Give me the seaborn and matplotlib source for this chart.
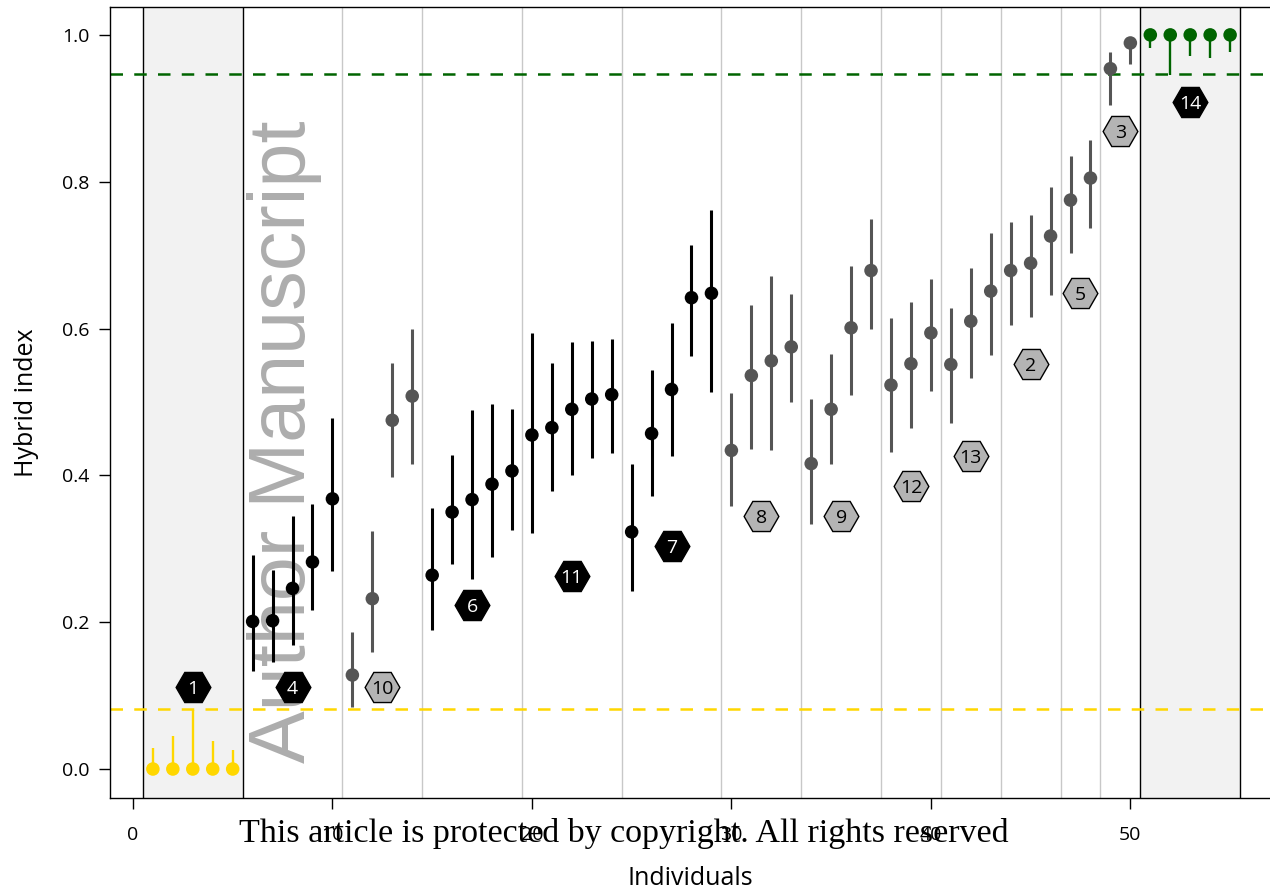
import numpy as np
import pandas as pd
import matplotlib
matplotlib.use("Agg")
import matplotlib.pyplot as plt
import seaborn as sns

# ---------------- data ----------------
individuals = list(range(1, 56))
hybrid_index = [0, 0, 0, 0, 0,
                0.201, 0.202, 0.246, 0.282, 0.368,
                0.128, 0.232, 0.475, 0.508,
                0.264, 0.350, 0.367, 0.388, 0.406,
                0.455, 0.465, 0.490, 0.504, 0.510,
                0.323, 0.457, 0.517, 0.642, 0.648,
                0.434, 0.536, 0.556, 0.575,
                0.416, 0.490, 0.601, 0.679,
                0.523, 0.552, 0.594,
                0.551, 0.610, 0.651,
                0.679, 0.689, 0.726,
                0.775, 0.805,
                0.954, 0.989,
                1.0, 1.0, 1.0, 1.0, 1.0]
ci_lower = [0, 0, 0, 0, 0,
            0.133, 0.146, 0.169, 0.216, 0.270,
            0.085, 0.160, 0.398, 0.415,
            0.189, 0.279, 0.259, 0.289, 0.326,
            0.322, 0.379, 0.400, 0.424, 0.431,
            0.243, 0.372, 0.427, 0.563, 0.513,
            0.358, 0.436, 0.435, 0.500,
            0.334, 0.416, 0.509, 0.599,
            0.432, 0.465, 0.515,
            0.471, 0.533, 0.564,
            0.605, 0.616, 0.646,
            0.703, 0.737,
            0.904, 0.961,
            0.982, 0.945, 0.971, 0.968, 0.977]
ci_upper = [0.029, 0.045, 0.081, 0.038, 0.026,
            0.291, 0.271, 0.345, 0.361, 0.478,
            0.187, 0.324, 0.553, 0.600,
            0.355, 0.428, 0.489, 0.497, 0.491,
            0.594, 0.553, 0.581, 0.583, 0.586,
            0.415, 0.543, 0.607, 0.714, 0.762,
            0.512, 0.632, 0.671, 0.647,
            0.504, 0.565, 0.685, 0.749,
            0.614, 0.636, 0.668,
            0.628, 0.682, 0.730,
            0.745, 0.755, 0.793,
            0.835, 0.857,
            0.977, 0.995,
            1.0, 1.0, 1.0, 1.0, 1.0]
ind_class = (["parentA"] * 5 + ["dark"] * 5 + ["grey"] * 4 + ["dark"] * 15
             + ["grey"] * 21 + ["parentB"] * 5)

group_labels = ["1", "4", "10", "6", "11", "7", "8", "9", "12", "13", "2", "5", "3", "14"]
group_x = [3, 8, 12.5, 17, 22, 27, 31.5, 35.5, 39, 42, 45, 47.5, 49.5, 53]
group_y = [0.112, 0.112, 0.112, 0.223, 0.263, 0.304, 0.345, 0.345, 0.386, 0.426,
           0.552, 0.649, 0.869, 0.909]
group_dark = [True, True, False, True, True, True, False, False, False, False,
              False, False, False, True]
group_bounds = [10.5, 14.5, 19.5, 24.5, 29.5, 33.5, 37.5, 40.5, 43.5, 46.5, 48.5]
parent_spans = [(0.5, 5.5), (50.5, 55.5)]
threshold_A = 0.082
threshold_B = 0.947

palette = {"parentA": "#FFD700", "dark": "#000000", "grey": "#555555", "parentB": "#006400"}

df = pd.DataFrame({"ind": individuals, "hi": hybrid_index, "lo": ci_lower,
                   "up": ci_upper, "cls": ind_class})

# ---------------- plot ----------------
sns.set_theme(style="white")
plt.rcParams["font.family"] = ["Open Sans", "DejaVu Sans"]

fig = plt.figure(figsize=(12.7, 8.93), dpi=100)
ax = fig.add_axes([110 / 1270, 1 - 798 / 893, 1160 / 1270, (798 - 7) / 893])

for a, b in parent_spans:
    ax.axvspan(a, b, facecolor="#f2f2f2", edgecolor="none", zorder=0)
    ax.axvline(a, color="black", lw=1, zorder=1)
    ax.axvline(b, color="black", lw=1, zorder=1)
for xb in group_bounds:
    ax.axvline(xb, color="#c8c8c8", lw=1, zorder=1)

ax.axhline(threshold_A, color="#FFD700", lw=1.8, ls=(0, (5, 4.5)), zorder=2)
ax.axhline(threshold_B, color="#006400", lw=1.8, ls=(0, (5, 4.5)), zorder=2)

# watermark (behind data, inside axes drawing order)
ax.text(305 / 1270, 1 - 442 / 893, "Author Manuscript", rotation=90,
        rotation_mode="anchor", ha="center", va="baseline", transform=fig.transFigure,
        fontsize=57, color="#adadad", family=["Liberation Sans", "DejaVu Sans"], zorder=1.5)

for cls, col in palette.items():
    sub = df[df.cls == cls]
    lw = 2.2 if cls in ("dark", "grey") else 1.7
    ax.vlines(sub.ind, sub.lo, sub.up, color=col, lw=lw, zorder=3)

sns.scatterplot(data=df, x="ind", y="hi", hue="cls", palette=palette, s=95,
                linewidth=0, legend=False, ax=ax, zorder=4)

for lab, gx, gy, dark in zip(group_labels, group_x, group_y, group_dark):
    fc = "black" if dark else "#b4b4b4"
    tc = "white" if dark else "black"
    ax.plot(gx, gy, marker="H", markersize=25, markerfacecolor=fc,
            markeredgecolor="black", markeredgewidth=1, zorder=5)
    ax.text(gx, gy, lab, ha="center", va="center_baseline", color=tc,
            fontsize=14, zorder=6)

ax.set_xlim(-1.15, 57.0)
ax.set_ylim(-0.0395, 1.038)
ax.set_xticks([0, 10, 20, 30, 40, 50])
ax.set_yticks([0.0, 0.2, 0.4, 0.6, 0.8, 1.0])
ax.set_yticklabels(["0.0", "0.2", "0.4", "0.6", "0.8", "1.0"])
ax.tick_params(axis="both", direction="out", length=8, width=1, color="black",
               labelsize=14, labelcolor="black", left=True, bottom=True)
ax.tick_params(axis="y", pad=7)
ax.tick_params(axis="x", pad=12)
for side in ("left", "bottom", "top"):
    ax.spines[side].set_color("black")
    ax.spines[side].set_linewidth(1)
ax.spines["right"].set_visible(False)

ax.set_xlabel("Individuals", fontsize=18, labelpad=16, color="black")
ax.set_ylabel("Hybrid index", fontsize=18, labelpad=16, color="black")

fig.text(624 / 1270, 1 - 842 / 893, "This article is protected by copyright. All rights reserved",
         ha="center", va="baseline", fontsize=24.5, color="black",
         family=["Liberation Serif", "DejaVu Serif"], zorder=10)

fig.savefig("out.png", dpi=100)
